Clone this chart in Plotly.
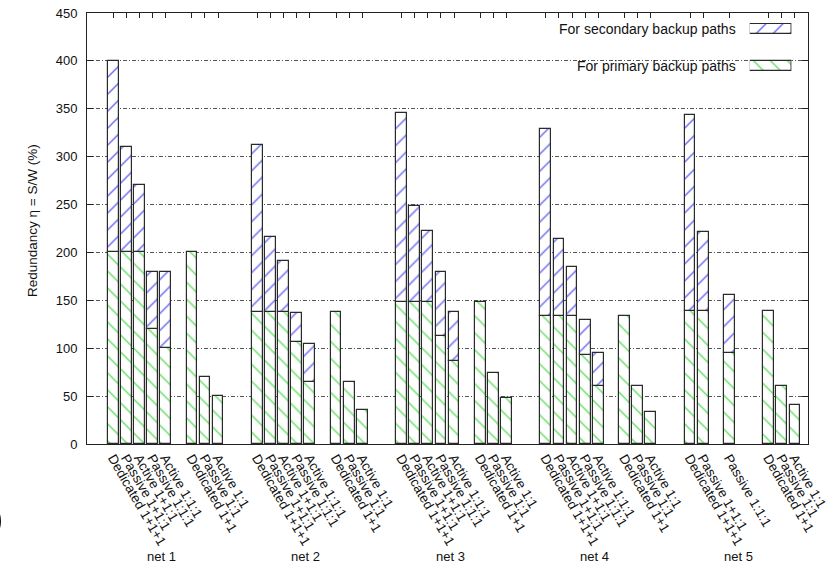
import plotly.graph_objects as go

# Redundancy of backup schemes per network, split into the share used by
# primary backup paths and the extra share needed by secondary backup paths.
nets = ["net 1", "net 2", "net 3", "net 4", "net 5"]
schemes = [
    "Dedicated 1+1+1", "Passive 1+1:1", "Active 1+1:1", "Passive 1:1:1", "Active 1:1:1",
    "Dedicated 1+1", "Passive 1:1", "Active 1:1",
]

# primary-backup redundancy (%) for every scheme, None = not evaluated
net1_primary = [200, 200, 200, 120, 100, 200, 70, 50]
net2_primary = [138, 138, 138, 106, 65, 138, 65, 35]
net3_primary = [148, 148, 148, 113, 87, 148, 74, 48]
net4_primary = [134, 134, 134, 93, 61, 134, 61, 33]
net5_primary = [139, 139, None, 95, None, 139, 61, 41]

# additional secondary-backup redundancy (%) for the three-path schemes
net1_secondary = [200, 110, 70, 60, 80]
net2_secondary = [174, 78, 53, 31, 39]
net3_secondary = [198, 100, 74, 67, 51]
net4_secondary = [195, 80, 51, 36, 34]
net5_secondary = [204, 82, None, 61, None]

primaries = [net1_primary, net2_primary, net3_primary, net4_primary, net5_primary]
secondaries = [net1_secondary, net2_secondary, net3_secondary, net4_secondary, net5_secondary]

GROUP_STRIDE = 11
SLOT_OFFSETS = [0, 1, 2, 3, 4, 6, 7, 8]
BAR_WIDTH = 0.82

FONT = "Liberation Sans, Arial, Helvetica, sans-serif"
GREEN = "#33d633"
BLUE = "#3c3cf2"
EDGE = "#2a2a2a"

x_prim, y_prim = [], []
x_sec, y_sec, base_sec = [], [], []
tickvals, ticktext = [], []
for g, (prim, sec) in enumerate(zip(primaries, secondaries)):
    for k, (off, name) in enumerate(zip(SLOT_OFFSETS, schemes)):
        p = prim[k]
        if p is None:
            continue
        pos = g * GROUP_STRIDE + off
        x_prim.append(pos)
        y_prim.append(p)
        tickvals.append(pos)
        ticktext.append(name)
        if k < len(sec) and sec[k] is not None:
            x_sec.append(pos)
            y_sec.append(sec[k])
            base_sec.append(p)


def hatch(shape, color):
    return dict(
        color="white",
        line=dict(color=EDGE, width=1.2),
        pattern=dict(shape=shape, fgcolor=color, fgopacity=0.75, size=12,
                     solidity=0.12, fillmode="overlay"),
    )


fig = go.Figure()
fig.add_trace(go.Bar(x=x_prim, y=y_prim, width=BAR_WIDTH,
                     marker=hatch("\\", GREEN), showlegend=False,
                     name="For primary backup paths"))
fig.add_trace(go.Bar(x=x_sec, y=y_sec, base=base_sec, width=BAR_WIDTH,
                     marker=hatch("/", BLUE), showlegend=False,
                     name="For secondary backup paths"))

# key swatches drawn on a small auxiliary axis pair
fig.add_trace(go.Bar(x=[1], y=[1], base=[0], orientation="h", width=0.27,
                     marker=hatch("/", BLUE), xaxis="x2", yaxis="y2",
                     showlegend=False, hoverinfo="skip"))
fig.add_trace(go.Bar(x=[1], y=[0], base=[0], orientation="h", width=0.27,
                     marker=hatch("\\", GREEN), xaxis="x2", yaxis="y2",
                     showlegend=False, hoverinfo="skip"))

annotations = [
    dict(text="For secondary backup paths", x=0.9026, y=0.9629, xref="paper", yref="paper",
         xanchor="right", yanchor="middle", showarrow=False, font=dict(size=14)),
    dict(text="For primary backup paths", x=0.9026, y=0.877, xref="paper", yref="paper",
         xanchor="right", yanchor="middle", showarrow=False, font=dict(size=14)),
    dict(text="Redundancy η = S/W (%)", x=-0.0763, y=0.5197, xref="paper", yref="paper",
         textangle=-90, xanchor="center", yanchor="middle", showarrow=False,
         font=dict(size=13.5)),
    dict(text="6", x=-0.1103, y=-0.1555, xref="paper", yref="paper",
         xanchor="right", yanchor="middle", showarrow=False,
         font=dict(size=80, color="black")),
]
for g, net in enumerate(nets):
    annotations.append(dict(text=net, x=g * GROUP_STRIDE + 4 - 0.3, y=-0.262,
                            xref="x", yref="paper", xanchor="center", yanchor="middle",
                            showarrow=False, font=dict(size=13)))

fig.update_layout(
    width=830, height=568,
    margin=dict(l=87, r=22, t=13, b=124, pad=0),
    paper_bgcolor="white", plot_bgcolor="white",
    barmode="overlay", bargap=0,
    font=dict(family=FONT, size=13, color="#111"),
    annotations=annotations,
    shapes=[dict(type="rect", xref="paper", yref="paper", x0=0.5935, x1=1.0,
                 y0=0.7564, y1=1.0, fillcolor="white", line=dict(width=0),
                 layer="between")],
    xaxis=dict(
        range=[-2, 53], tickmode="array", tickvals=tickvals, ticktext=ticktext,
        tickangle=60, ticks="inside", ticklen=5, tickcolor="#222",
        showline=True, linecolor="#222", linewidth=1, mirror="ticks",
        showgrid=False, zeroline=False, layer="below traces",
        tickfont=dict(size=13.5), automargin=False,
    ),
    yaxis=dict(
        range=[0, 450], dtick=50, ticks="inside", ticklen=6, tickcolor="#222",
        showline=True, linecolor="#222", linewidth=1, mirror="ticks",
        showgrid=True, gridcolor="#555", gridwidth=0.8, griddash="4px,2px,1px,2px",
        zeroline=False, tickfont=dict(size=13), ticklabelstandoff=6,
        automargin=False,
    ),
    xaxis2=dict(domain=[0.9192, 0.9771], range=[0, 1], anchor="y2", visible=False),
    yaxis2=dict(domain=[0.8631, 0.9768], range=[-0.162, 1.162], anchor="x2", visible=False),
)

fig.write_html("out.html")
